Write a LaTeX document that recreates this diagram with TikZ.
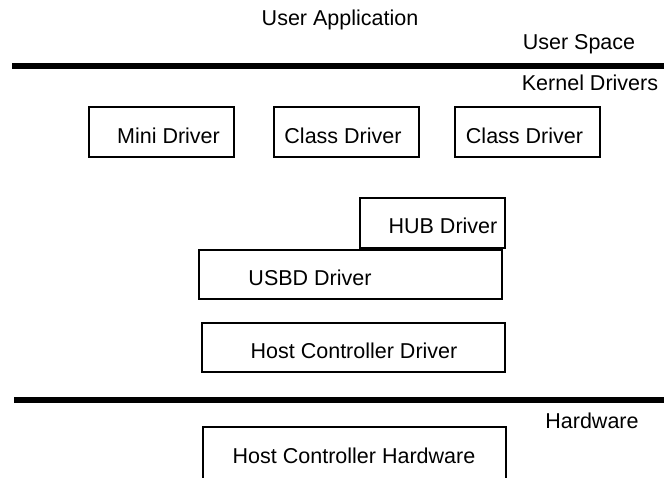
\documentclass[tikz,border=0pt]{standalone}
\usepackage{fontspec}
\setmainfont{Liberation Sans}
\begin{document}
\begin{tikzpicture}[x=1pt,y=-1pt,
  box/.style={draw, line width=2pt, inner sep=0pt, rectangle, minimum width=145pt, minimum height=50pt},
  widebox/.style={box, minimum width=303pt, minimum height=49pt},
  lbl/.style={anchor=base, inner sep=0pt, font=\fontsize{21.5}{24}\selectfont},
  rule/.style={line width=5.5pt}]
\clip (0,0) rectangle (664,477);
% separator rules
\coordinate (r1a) at (12,66);
\coordinate (r1b) at (664,66);
\coordinate (r2a) at (14,400);
\coordinate (r2b) at (664,400);
\draw[rule] (r1a) -- (r1b);
\draw[rule] (r2a) -- (r2b);
% boxes
\node[box] (mini) at (161.5,132) {};
\node[box] (class1) at (346,132) {};
\node[box] (class2) at (527.5,132) {};
\node[box] (hub) at (432.5,223) {};
\node[widebox] (usbd) at (350.5,274.5) {};
\node[widebox] (hcd) at (353.5,347.5) {};
\node[widebox, minimum height=80pt] (hch) at (354.5,467) {};
% texts
\node[lbl] (tua) at (340,25) {User Application};
\node[lbl] (tus) at (579,49) {User Space};
\node[lbl] (tkd) at (590,90) {Kernel Drivers};
\node[lbl] (tmini) at (168.5,143) {Mini Driver};
\node[lbl] (tc1) at (343,143) {Class Driver};
\node[lbl] (tc2) at (524.5,143) {Class Driver};
\node[lbl] (thub) at (443,233) {HUB Driver};
\node[lbl] (tusbd) at (310,285) {USBD Driver};
\node[lbl] (thcd) at (354,358) {Host Controller Driver};
\node[lbl] (thw) at (592,428) {Hardware};
\node[lbl] (thch) at (354,463) {Host Controller Hardware};
\end{tikzpicture}
\end{document}
